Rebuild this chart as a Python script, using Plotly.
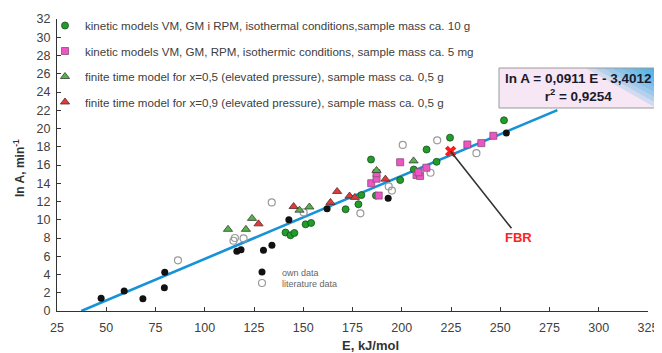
import plotly.graph_objects as go

# ---------------- data ----------------
own_E = [47.4, 59.1, 68.6, 79.7, 79.5, 116.3, 118.4, 129.8, 134.1, 142.7, 162.1, 193.1, 253.1]
own_lnA = [1.4, 2.2, 1.35, 4.25, 2.55, 6.55, 6.7, 6.65, 7.2, 10.0, 11.2, 12.35, 19.5]

lit_E = [86.4, 114.6, 115.3, 119.7, 134.0, 150.2, 179.0, 193.4, 195.0, 200.5, 214.6, 218.0, 237.9]
lit_lnA = [5.55, 7.7, 8.0, 7.95, 11.9, 10.8, 10.7, 13.65, 13.2, 18.2, 15.15, 18.7, 17.3]

kin10_E = [141.0, 143.5, 145.5, 151.2, 154.0, 171.5, 178.0, 179.5, 184.4, 186.9, 199.2, 206.1, 212.6, 217.7, 224.5, 251.9]
kin10_lnA = [8.6, 8.3, 8.55, 9.5, 9.65, 11.15, 11.7, 12.7, 16.6, 12.65, 14.35, 15.5, 17.7, 16.35, 19.0, 20.9]

kin5_E = [184.5, 187.2, 187.2, 188.3, 199.2, 207.5, 209.3, 208.5, 212.5, 233.3, 240.4, 246.5]
kin5_lnA = [14.0, 14.5, 15.1, 12.65, 16.3, 14.9, 14.8, 15.2, 15.7, 18.25, 18.4, 19.2]

ft05_E = [111.8, 120.9, 124.0, 148.1, 153.1, 187.2, 206.0]
ft05_lnA = [8.95, 8.95, 10.15, 11.05, 11.4, 15.4, 16.45]

ft09_E = [127.3, 145.1, 163.8, 167.2, 173.5, 176.2, 191.7]
ft09_lnA = [9.55, 11.45, 11.9, 13.1, 12.6, 12.45, 14.45]

fbr_E = [224.8]
fbr_lnA = [17.5]

# regression  ln A = 0,0911 E - 3,4012   (r2 = 0,9254)
slope = 0.0911
intercept = -3.4012
r2 = 0.9254
fit_E = [37.33, 279.0]
fit_lnA = [slope * e + intercept for e in fit_E]

x_ticks = [25, 50, 75, 100, 125, 150, 175, 200, 225, 250, 275, 300, 325]
y_ticks = list(range(0, 33, 2))

legend_names = [
    "kinetic models VM, GM i RPM, isothermal conditions,sample mass ca. 10 g",
    "kinetic models VM, GM, RPM, isothermic conditions, sample mass ca. 5 mg",
    "finite time model for x=0,5 (elevated pressure), sample mass ca. 0,5 g",
    "finite time model for x=0,9 (elevated pressure), sample mass ca. 0,5 g",
]

# ---------------- figure ----------------
# page body has an 8px margin: figure is 8px smaller so it fits the 662x353 window
OFF = 8
W, H = 662 - OFF, 353 - OFF
PL, PR, PT, PB = 57, 648, 19, 311          # plot area in window pixels
L, T = PL - OFF, PT - OFF
R, B = W - (PR - OFF), H - (PB - OFF)
pw, ph = PR - PL, PB - PT


def px2paper_x(px):
    return (px - PL) / pw


def px2paper_y(py):
    return (PB - py) / ph


fig = go.Figure()

fig.add_trace(go.Scatter(x=fit_E, y=fit_lnA, mode="lines",
                         line=dict(color="#1592d8", width=2.6),
                         showlegend=False, hoverinfo="skip"))

fig.add_trace(go.Scatter(x=own_E, y=own_lnA, mode="markers", name="own data",
                         marker=dict(symbol="circle", size=7, color="#111111"),
                         legend="legend5"))
fig.add_trace(go.Scatter(x=lit_E, y=lit_lnA, mode="markers", name="literature data",
                         marker=dict(symbol="circle-open", size=7, color="#9a9a9a",
                                     line=dict(width=1.2)),
                         legend="legend6"))
fig.add_trace(go.Scatter(x=kin10_E, y=kin10_lnA, mode="markers", name=legend_names[0],
                         marker=dict(symbol="circle", size=7, color="#1f9e2a",
                                     line=dict(color="#1b4d1f", width=0.8)),
                         legendgroup="g1"))
fig.add_trace(go.Scatter(x=kin5_E, y=kin5_lnA, mode="markers", name=legend_names[1],
                         marker=dict(symbol="square", size=7, color="#ee55c4",
                                     line=dict(color="#8a4a7a", width=0.8)),
                         legendgroup="g2"))
fig.add_trace(go.Scatter(x=ft05_E, y=ft05_lnA, mode="markers", name=legend_names[2],
                         marker=dict(symbol="triangle-up", size=8, color="#52b548",
                                     line=dict(color="#3a3a3a", width=0.8)),
                         legendgroup="g3"))
fig.add_trace(go.Scatter(x=ft09_E, y=ft09_lnA, mode="markers", name=legend_names[3],
                         marker=dict(symbol="triangle-up", size=8, color="#e03a3a",
                                     line=dict(color="#5a2a2a", width=0.8)),
                         legendgroup="g4"))
fig.add_trace(go.Scatter(x=fbr_E, y=fbr_lnA, mode="markers",
                         marker=dict(symbol="x", size=10, color="#ff1a1a",
                                     line=dict(width=0)),
                         showlegend=False))

base_legend = dict(bgcolor="rgba(0,0,0,0)", borderwidth=0, itemwidth=30,
                   xanchor="left", itemclick=False, itemdoubleclick=False)
top_legend = dict(base_legend, x=px2paper_x(45), y=px2paper_y(11), yanchor="top",
                  traceorder="grouped", tracegroupgap=6.5,
                  font=dict(family="Liberation Sans", size=11.6, color="#404040"))
small_font = dict(family="Liberation Sans", size=9, color="#666666")
legend5 = dict(base_legend, x=px2paper_x(242), y=px2paper_y(272), yanchor="middle", font=small_font)
legend6 = dict(base_legend, x=px2paper_x(242), y=px2paper_y(283), yanchor="middle", font=small_font)

axis_font = dict(family="Liberation Sans", size=12.5, color="#404040")
fig.update_layout(
    width=W, height=H,
    margin=dict(l=L, r=R, t=T, b=B, autoexpand=False),
    paper_bgcolor="white", plot_bgcolor="white",
    xaxis=dict(range=[25, 325], tickvals=x_ticks, ticks="inside", ticklen=4,
               tickcolor="#333", showline=True, linecolor="#333", linewidth=1.2,
               showgrid=False, zeroline=False, tickfont=axis_font, ticklabelstandoff=5),
    yaxis=dict(range=[0, 32], tickvals=y_ticks, ticks="inside", ticklen=4,
               tickcolor="#333", showline=True, linecolor="#333", linewidth=1.2,
               showgrid=False, zeroline=False, tickfont=axis_font, ticklabelstandoff=3),
    legend=top_legend, legend5=legend5, legend6=legend6,
)

# axis titles
fig.add_annotation(xref="paper", yref="paper", x=px2paper_x(370), y=px2paper_y(345),
                   xanchor="center", yanchor="middle",
                   text="<b>E, kJ/mol</b>", showarrow=False,
                   font=dict(family="Liberation Sans", size=13, color="#333"))
fig.add_annotation(xref="paper", yref="paper", x=px2paper_x(19), y=px2paper_y(168),
                   xanchor="center", yanchor="middle",
                   text="<b>ln A, min<sup>-1</sup></b>", showarrow=False, textangle=-90,
                   font=dict(family="Liberation Sans", size=12, color="#333"))

# equation box with gradient-like fill
bx0, bx1, by0, by1 = px2paper_x(499), px2paper_x(656), px2paper_y(108), px2paper_y(68)
fig.add_shape(type="rect", xref="paper", yref="paper", x0=bx0, x1=bx1, y0=by0, y1=by1,
              fillcolor="#f7e6f3", line=dict(width=0), layer="above")
steps = 8
for k in range(steps):
    dx = (bx1 - bx0) * 0.45 * (1 - k / steps)
    dy = (by1 - by0) * 1.0 * (1 - k / steps)
    fig.add_shape(type="path", xref="paper", yref="paper",
                  path=f"M {bx1 - dx} {by1} L {bx1} {by1} L {bx1} {by1 - dy} Z",
                  fillcolor="#2aa4e6", opacity=0.18, line=dict(width=0), layer="above")
fig.add_shape(type="rect", xref="paper", yref="paper", x0=bx0, x1=bx1, y0=by0, y1=by1,
              fillcolor="rgba(0,0,0,0)", line=dict(color="#9a9a9a", width=1), layer="above")
eq_text = (f"<b>ln A = {str(slope).replace('.', ',')} E - {str(-intercept).replace('.', ',')}</b>"
           f"<br><b>r<sup>2</sup> = {str(r2).replace('.', ',')}</b>")
fig.add_annotation(xref="paper", yref="paper", x=(bx0 + bx1) / 2, y=(by0 + by1) / 2,
                   text=eq_text, showarrow=False, xanchor="center", yanchor="middle",
                   font=dict(family="Liberation Sans", size=13.5, color="#1a1a2a"))

# FBR callout
fig.add_annotation(x=fbr_E[0], y=fbr_lnA[0], xref="x", yref="y",
                   text="<b>FBR</b>", showarrow=True, arrowhead=0, arrowwidth=1.6,
                   arrowcolor="#333333", ax=68, ay=86,
                   font=dict(family="Liberation Sans", size=13, color="#ff2222"))

fig.write_html("out.html")
